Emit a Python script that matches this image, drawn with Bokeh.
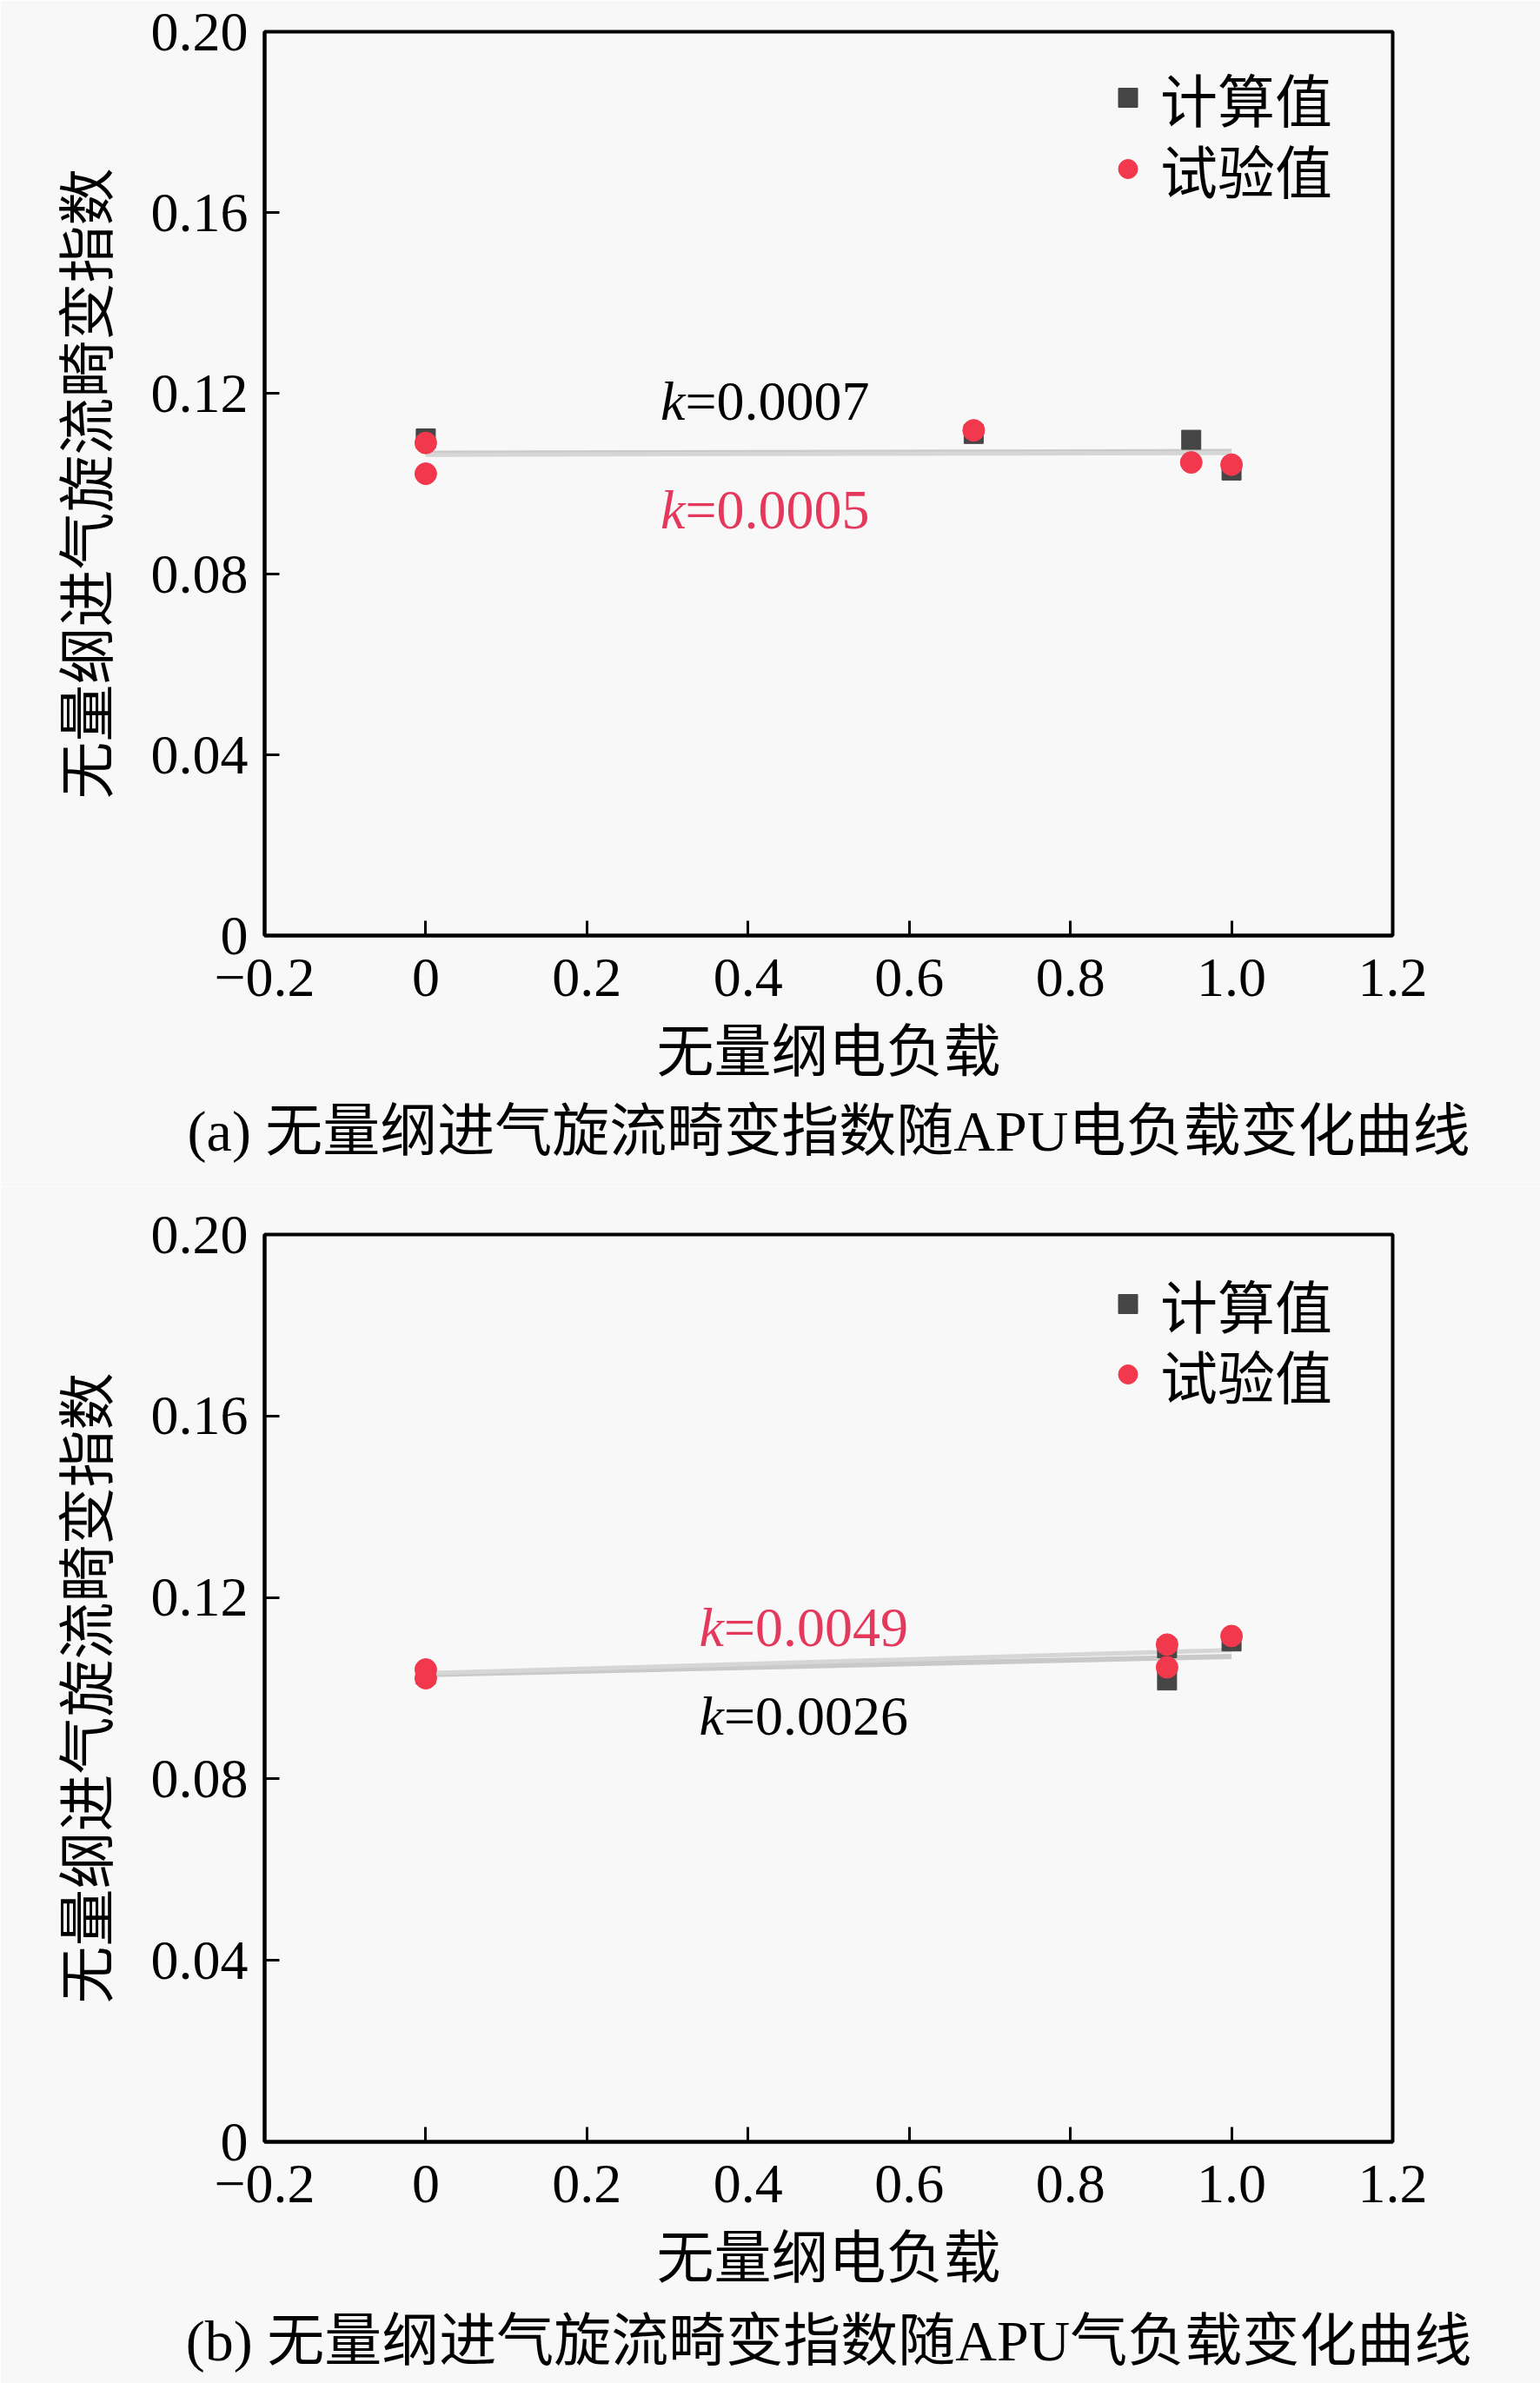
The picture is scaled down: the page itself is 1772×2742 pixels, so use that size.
from bokeh.plotting import figure
from bokeh.layouts import column
from bokeh.models import (Range1d, FixedTicker, CustomJSTickFormatter, Legend,
                          LegendItem, Title)
from bokeh.core.properties import value
from bokeh.embed import file_html
from bokeh.resources import INLINE

# ---------------- data ----------------
# panel (a): electric load
a_calc_x = [0.0, 0.68, 0.95, 1.0]
a_calc_y = [0.1100, 0.1110, 0.1097, 0.1029]
a_exp_x = [0.0, 0.0, 0.68, 0.95, 1.0]
a_exp_y = [0.1090, 0.1022, 0.1118, 0.1047, 0.1042]
a_fit_calc_x = [0.0, 1.0]
a_fit_calc_y = [0.1067, 0.1071]
a_fit_exp_x = [0.0, 1.0]
a_fit_exp_y = [0.1064, 0.1068]
a_k_calc = "0.0007"
a_k_exp = "0.0005"

# panel (b): air (bleed) load
b_calc_x = [0.0, 0.92, 0.92, 1.0]
b_calc_y = [0.1030, 0.1017, 0.1088, 0.1103]
b_exp_x = [0.0, 0.0, 0.92, 0.92, 1.0]
b_exp_y = [0.1041, 0.1022, 0.1096, 0.1046, 0.1115]
b_fit_calc_x = [0.0, 1.0]
b_fit_calc_y = [0.1030, 0.1070]
b_fit_exp_x = [0.0, 1.0]
b_fit_exp_y = [0.1033, 0.1084]
b_k_calc = "0.0026"
b_k_exp = "0.0049"

y_ticks = [0.0, 0.04, 0.08, 0.12, 0.16, 0.20]
x_ticks = [-0.2, 0.0, 0.2, 0.4, 0.6, 0.8, 1.0, 1.2]

x_label = "无量纲电负载"
y_label = "无量纲进气旋流畸变指数"
caption_a = "(a) 无量纲进气旋流畸变指数随APU电负载变化曲线"
caption_b = "(b) 无量纲进气旋流畸变指数随APU气负载变化曲线"
legend_calc = "计算值"
legend_exp = "试验值"

# ---------------- styles ----------------
BG = "#f8f8f8"
SERIF = "Liberation Serif"
CJK = "Noto Sans CJK SC"
MIXED = "Liberation Serif, Noto Sans CJK SC"
RED = "#f2384c"
RED_TXT = "#e4395c"
DARK = "#454545"
LINE_C = "#c9c9c9"

W = 1772


def style_legend(lg):
    lg.background_fill_alpha = 0
    lg.border_line_alpha = 0
    lg.padding = 0
    lg.margin = 0
    lg.spacing = 0
    lg.glyph_width = 55
    lg.glyph_height = 82
    lg.label_height = 82
    lg.label_standoff = 10
    lg.label_text_font = MIXED
    lg.label_text_font_size = "66px"
    lg.label_text_color = "black"
    lg.label_text_baseline = "middle"


def make_panel(height, border_top, border_bottom,
               cx, cy, ex, ey, fcx, fcy, fex, fey,
               k_calc, k_exp, k_anchor_x, k_calc_y, k_exp_y,
               caption, cap_standoff, legend_vy1, legend_vy2):
    p = figure(width=W, height=height, output_backend="svg", toolbar_location=None,
               x_range=Range1d(-0.2, 1.2), y_range=Range1d(0, 0.2),
               min_border_left=304, min_border_right=170,
               min_border_top=border_top, min_border_bottom=border_bottom,
               background_fill_color=BG, border_fill_color=BG)
    p.grid.visible = False
    p.outline_line_color = "black"
    p.outline_line_width = 4
    p.outline_line_alpha = 1.0

    for ax in (p.xaxis[0], p.yaxis[0]):
        ax.axis_line_width = 4
        ax.major_tick_line_width = 3
        ax.major_tick_in = 17
        ax.major_tick_out = 0
        ax.minor_tick_line_color = None
        ax.major_label_text_font = SERIF
        ax.major_label_text_font_size = "64px"
        ax.major_label_text_color = "black"
        ax.axis_label_text_font = CJK
        ax.axis_label_text_font_size = "66px"
        ax.axis_label_text_font_style = "normal"
        ax.axis_label_text_color = "black"

    p.xaxis.ticker = FixedTicker(ticks=x_ticks)
    p.xaxis.formatter = CustomJSTickFormatter(code="""
        if (Math.abs(tick) < 1e-9) return "0";
        return tick.toFixed(1).replace("-", "\u2212");
    """)
    p.yaxis.ticker = FixedTicker(ticks=y_ticks)
    p.yaxis.formatter = CustomJSTickFormatter(code="""
        if (Math.abs(tick) < 1e-9) return "0";
        return tick.toFixed(2);
    """)
    p.xaxis.major_label_standoff = 27
    p.yaxis.major_label_standoff = 19
    p.xaxis.axis_label = x_label
    p.yaxis.axis_label = y_label
    p.xaxis.axis_label_standoff = 7
    p.yaxis.axis_label_standoff = 28

    # fitted lines
    p.line(fcx, fcy, line_color=LINE_C, line_width=6)
    p.line(fex, fey, line_color="#d6d6d6", line_width=5)

    r_sq = p.scatter(cx, cy, marker="square", size=22, fill_color=DARK,
                     line_color=DARK, line_width=1)
    r_ci = p.scatter(ex, ey, marker="circle", size=25, fill_color=RED,
                     line_color=RED, line_width=1)

    # slope annotations
    for kv, ky, col in ((k_calc, k_calc_y, "black"), (k_exp, k_exp_y, RED_TXT)):
        p.text(x=[k_anchor_x], y=[ky], text=["k"], text_font=value(SERIF),
               text_font_style="italic", text_font_size="64px", text_color=col,
               text_align="right", text_baseline="alphabetic")
        p.text(x=[k_anchor_x], y=[ky], text=["=" + kv], text_font=value(SERIF),
               text_font_size="64px", text_color=col,
               text_align="left", text_baseline="alphabetic")

    lg1 = Legend(items=[LegendItem(label=legend_calc, renderers=[r_sq])],
                 location=(966, legend_vy1))
    lg2 = Legend(items=[LegendItem(label=legend_exp, renderers=[r_ci])],
                 location=(966, legend_vy2))
    for lg in (lg1, lg2):
        style_legend(lg)
        p.add_layout(lg)

    cap = Title(text=caption, align="center", text_font=MIXED,
                text_font_size="66px", text_font_style="normal",
                text_color="black", standoff=cap_standoff)
    p.add_layout(cap, "below")
    return p


# panel (a): page rows 0..1365, frame 36..1076
pa = make_panel(1365, 36, 289,
                a_calc_x, a_calc_y, a_exp_x, a_exp_y,
                a_fit_calc_x, a_fit_calc_y, a_fit_exp_x, a_fit_exp_y,
                a_k_calc, a_k_exp, 0.322, 0.1182, 0.0943,
                caption_a, 16, 916, 834)
# panel (b): page rows 1365..2742, frame 1420..2464
pb = make_panel(1377, 55, 278,
                b_calc_x, b_calc_y, b_exp_x, b_exp_y,
                b_fit_calc_x, b_fit_calc_y, b_fit_exp_x, b_fit_exp_y,
                b_k_calc, b_k_exp, 0.370, 0.0939, 0.1134,
                caption_b, 25, 916, 835)

layout = column(pa, pb, spacing=0)
open("out.html", "w").write(file_html(layout, INLINE))
